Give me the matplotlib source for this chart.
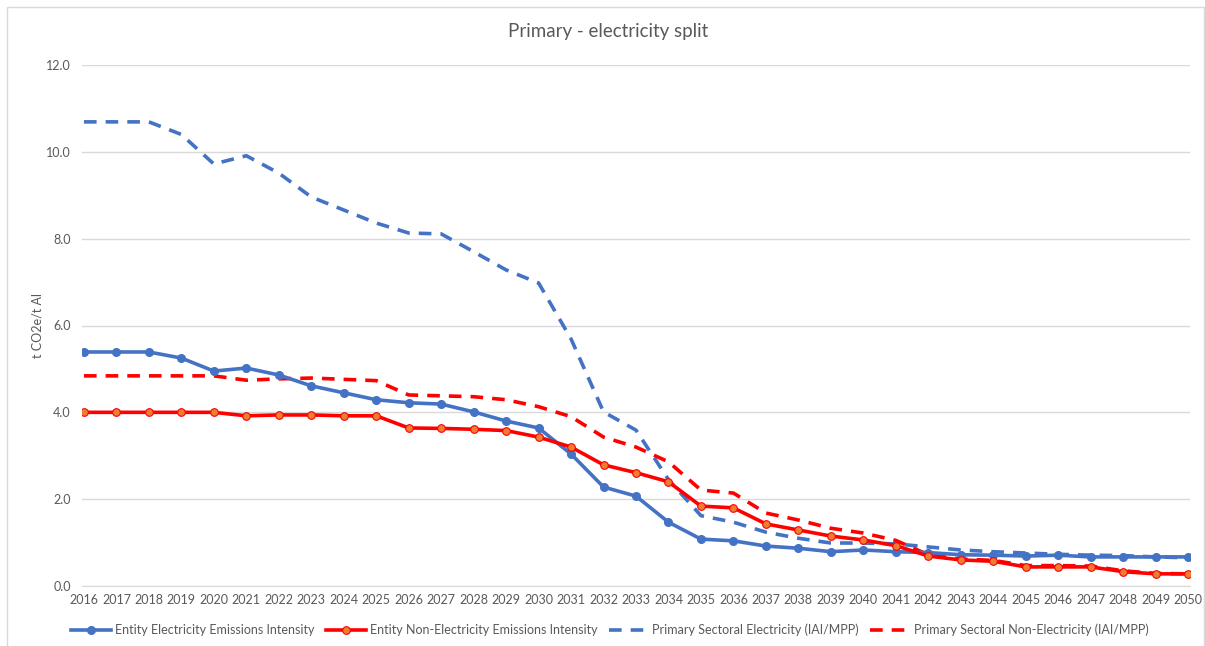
import matplotlib
matplotlib.use("Agg")
import matplotlib.pyplot as plt
from matplotlib.patches import Rectangle

plt.rcParams['font.family'] = ['Lato', 'DejaVu Sans']

years = list(range(2016, 2051))

entity_electricity = [5.39, 5.39, 5.39, 5.25, 4.95, 5.02, 4.86, 4.61, 4.45, 4.29,
                      4.22, 4.19, 4.01, 3.80, 3.64, 3.04, 2.28, 2.07, 1.47, 1.08,
                      1.04, 0.92, 0.87, 0.79, 0.83, 0.79, 0.77, 0.72, 0.71, 0.69,
                      0.71, 0.67, 0.67, 0.67, 0.67]
entity_non_electricity = [4.00, 4.00, 4.00, 4.00, 4.00, 3.92, 3.94, 3.94, 3.92, 3.92,
                          3.64, 3.63, 3.61, 3.58, 3.43, 3.20, 2.79, 2.61, 2.40, 1.84,
                          1.80, 1.43, 1.29, 1.15, 1.06, 0.93, 0.69, 0.60, 0.57, 0.44,
                          0.44, 0.44, 0.33, 0.28, 0.28]
sectoral_electricity = [10.69, 10.69, 10.69, 10.40, 9.72, 9.91, 9.51, 8.96, 8.66, 8.36,
                        8.13, 8.11, 7.70, 7.28, 6.98, 5.69, 4.01, 3.59, 2.45, 1.62,
                        1.47, 1.24, 1.10, 0.99, 0.99, 0.97, 0.90, 0.83, 0.79, 0.76,
                        0.73, 0.71, 0.70, 0.67, 0.65]
sectoral_non_electricity = [4.84, 4.84, 4.84, 4.84, 4.84, 4.74, 4.77, 4.79, 4.76, 4.73,
                            4.40, 4.38, 4.36, 4.29, 4.13, 3.90, 3.43, 3.20, 2.86, 2.21,
                            2.14, 1.68, 1.52, 1.33, 1.22, 1.05, 0.72, 0.62, 0.59, 0.47,
                            0.47, 0.46, 0.35, 0.29, 0.28]

labels = ["Entity Electricity Emissions Intensity",
          "Entity Non-Electricity Emissions Intensity",
          "Primary Sectoral Electricity (IAI/MPP)",
          "Primary Sectoral Non-Electricity (IAI/MPP)"]

blue = "#4472C4"
red = "#FF0000"
orange = "#ED7D31"
grey_text = "#595959"

fig = plt.figure(figsize=(12.05, 6.46), dpi=100)
ax = fig.add_axes([82/1205, 1 - 586/646, (1190 - 82)/1205, (586 - 65)/646])

ax.plot(years, entity_electricity, color=blue, lw=2.6, marker='o', ms=5.5,
        mfc=blue, mec=blue, label=labels[0], zorder=4)
ax.plot(years, entity_non_electricity, color=red, lw=2.6, marker='o', ms=5.5,
        mfc=orange, mec=red, mew=0.8, label=labels[1], zorder=4)
ax.plot(years, sectoral_electricity, color=blue, lw=2.6, ls=(0, (3.5, 2.5)),
        label=labels[2], zorder=3)
ax.plot(years, sectoral_non_electricity, color=red, lw=2.6, ls=(0, (3.5, 2.5)),
        label=labels[3], zorder=3)

ax.set_xlim(2015.94, 2050.06)
ax.set_ylim(0, 12)
ax.set_yticks([0, 2, 4, 6, 8, 10, 12])
ax.set_yticklabels([f"{v:.1f}" for v in [0, 2, 4, 6, 8, 10, 12]])
ax.set_xticks(years)
ax.set_xticklabels([str(y) for y in years])
ax.grid(axis='y', color='#D9D9D9', lw=1)
ax.set_axisbelow(True)
for s in ['top', 'right', 'left']:
    ax.spines[s].set_visible(False)
ax.spines['bottom'].set_color('#D9D9D9')
ax.tick_params(axis='both', length=0, colors=grey_text, labelsize=9)
ax.tick_params(axis='y', pad=8)
ax.tick_params(axis='x', pad=6)

ax.set_ylabel("t CO2e/t Al", color=grey_text, fontsize=9, labelpad=2)
fig.text(0.505, 1 - 32/646, "Primary - electricity split", ha='center', va='center',
         color=grey_text, fontsize=13.5)

leg = fig.legend(loc='center', bbox_to_anchor=(610/1205, 1 - 630/646), ncol=4,
                 frameon=False, fontsize=9, handlelength=3.2, columnspacing=0.9,
                 handletextpad=0.3, labelcolor=grey_text)

fig.patches.append(Rectangle((7/1205, -0.01), (1204 - 7)/1205, 1 - 7/646 + 0.01,
                             transform=fig.transFigure, fill=False,
                             edgecolor='#D9D9D9', lw=1))

fig.savefig("out.png", dpi=100, facecolor='white')
